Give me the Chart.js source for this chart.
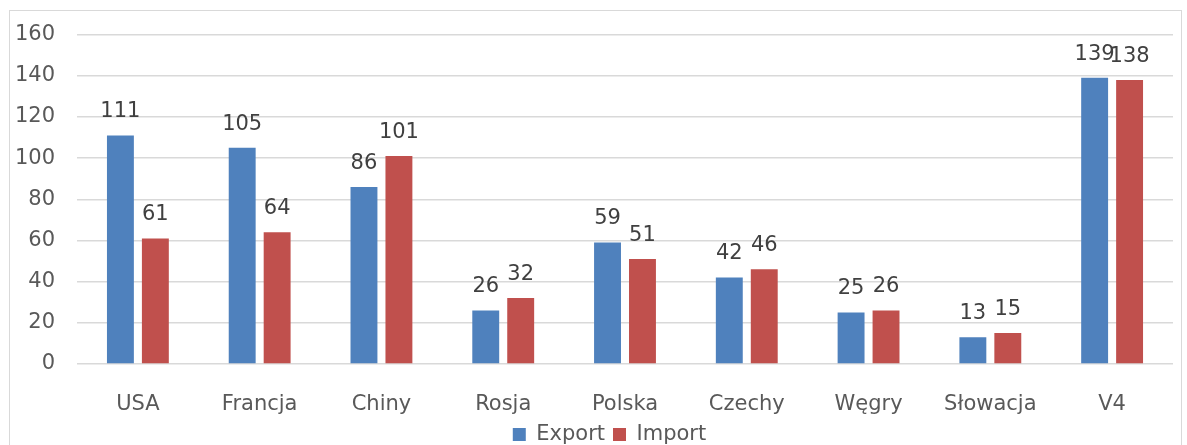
<!DOCTYPE html>
<html>
<head>
<meta charset="utf-8">
<script src="https://cdn.jsdelivr.net/npm/chart.js@4"></script>
<style>
    html, body { margin: 0; padding: 0; background: #fff; }
    #wrap { position: relative; width: 1187px; height: 445px; }
    #frame {
        position: absolute; left: 9px; top: 10px; width: 1173px; height: 460px;
        border: 1px solid #d9d9d9; box-sizing: border-box;
    }
    canvas { position: absolute; left: 0; top: 0; }
</style>
</head>
<body>
<div id="wrap">
    <div id="frame"></div>
    <canvas id="trade-chart" width="1187" height="445"></canvas>
</div>
<script>
// Chart data
const categories = ['USA', 'Francja', 'Chiny', 'Rosja', 'Polska', 'Czechy', 'Węgry', 'Słowacja', 'V4'];
const exportValues = [111, 105, 86, 26, 59, 42, 25, 13, 139];
const importValues = [61, 64, 101, 32, 51, 46, 26, 15, 138];
const yTicks = [0, 20, 40, 60, 80, 100, 120, 140, 160];

const FONT = 'DejaVu Sans';

// Value labels above each bar
const barLabels = {
    id: 'barLabels',
    afterDatasetsDraw: function(chart) {
        const ctx = chart.ctx;
        ctx.save();
        ctx.font = '21px "' + FONT + '"';
        ctx.fillStyle = '#404040';
        ctx.textAlign = 'center';
        ctx.textBaseline = 'bottom';
        chart.data.datasets.forEach(function(ds, i) {
            chart.getDatasetMeta(i).data.forEach(function(bar, j) {
                ctx.fillText(ds.data[j], bar.x, bar.y - 13);
            });
        });
        ctx.restore();
    }
};

// Legend sits a bit right of centre in the original
const legendShift = {
    id: 'legendShift',
    afterLayout: function(chart) {
        if (chart.legend) {
            chart.legend.left += 23;
            chart.legend.right += 23;
        }
    }
};

document.addEventListener('DOMContentLoaded', function() {
    const ctx = document.getElementById('trade-chart');
    new Chart(ctx, {
        type: 'bar',
        data: {
            labels: categories,
            datasets: [{
                label: 'Export',
                data: exportValues,
                backgroundColor: '#4f81bd'
            }, {
                label: 'Import',
                data: importValues,
                backgroundColor: '#c0504d'
            }]
        },
        options: {
            responsive: false,
            animation: false,
            categoryPercentage: 0.574,
            barPercentage: 0.77,
            layout: {
                padding: { left: 0, right: 14, top: 27, bottom: -10 }
            },
            plugins: {
                legend: {
                    position: 'bottom',
                    labels: {
                        boxWidth: 13,
                        boxHeight: 13,
                        padding: 8,
                        color: '#595959',
                        font: { family: FONT, size: 21 }
                    }
                },
                tooltip: { enabled: false }
            },
            scales: {
                x: {
                    afterFit: function(scale) { scale.height = 52; },
                    grid: { display: false },
                    border: { display: false },
                    ticks: {
                        color: '#595959',
                        padding: 20,
                        font: { family: FONT, size: 21 }
                    }
                },
                y: {
                    min: 0,
                    max: 160,
                    afterFit: function(scale) { scale.width = 77; },
                    afterBuildTicks: function(scale) {
                        scale.ticks = yTicks.map(function(v) { return { value: v }; });
                    },
                    grid: { color: '#d9d9d9', lineWidth: 1.5, drawTicks: false },
                    border: { display: false },
                    ticks: {
                        color: '#595959',
                        padding: 22,
                        font: { family: FONT, size: 21 }
                    }
                }
            }
        },
        plugins: [barLabels, legendShift]
    });
});
</script>
</body>
</html>
